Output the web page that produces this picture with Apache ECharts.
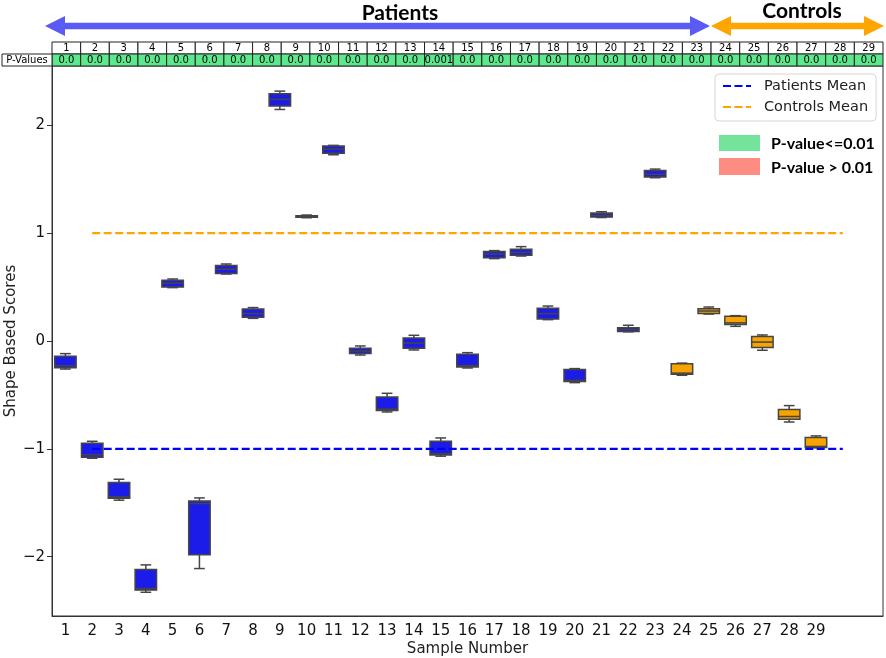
<!DOCTYPE html>
<html>
<head>
<meta charset="utf-8">
<script src="https://cdn.jsdelivr.net/npm/echarts@6/dist/echarts.min.js"></script>
<style>
	html, body { margin: 0; padding: 0; background: #fff; }
	#main { width: 886px; height: 658px; }
</style>
</head>
<body>
<div id="main"></div>
<script>
// 样本编号
var categories = ['1','2','3','4','5','6','7','8','9','10','11','12','13','14','15','16','17','18','19','20','21','22','23','24','25','26','27','28','29'];
var nPatients = 23;     // 1-23 患者, 24-29 对照
// 箱线图数据
var mins    = [-0.26,-1.087,-1.476,-2.33,0.495,-2.11,0.621,0.21,2.147,1.143,1.727,-0.13,-0.658,-0.083,-1.068,-0.25,0.764,0.788,0.198,-0.386,1.145,0.085,1.514,-0.318,0.25,0.136,-0.086,-0.751,-0.99];
var q1s     = [-0.247,-1.078,-1.458,-2.31,0.50,-1.983,0.625,0.22,2.178,1.148,1.742,-0.117,-0.645,-0.068,-1.057,-0.24,0.773,0.794,0.204,-0.376,1.149,0.087,1.52,-0.309,0.254,0.152,-0.061,-0.726,-0.988];
var medians = [-0.23,-1.055,-1.445,-2.295,0.537,-1.507,0.665,0.254,2.24,1.155,1.78,-0.093,-0.632,-0.02,-1.045,-0.228,0.806,0.822,0.254,-0.365,1.165,0.105,1.545,-0.298,0.278,0.168,-0.01,-0.70,-0.978];
var q3s     = [-0.142,-0.948,-1.312,-2.119,0.563,-1.483,0.70,0.297,2.293,1.162,1.808,-0.068,-0.519,0.028,-0.93,-0.123,0.831,0.85,0.303,-0.265,1.186,0.124,1.582,-0.21,0.30,0.229,0.041,-0.636,-0.895];
var maxs    = [-0.117,-0.93,-1.282,-2.076,0.575,-1.455,0.714,0.31,2.317,1.168,1.814,-0.046,-0.485,0.053,-0.899,-0.108,0.838,0.875,0.324,-0.256,1.199,0.146,1.594,-0.205,0.315,0.235,0.056,-0.599,-0.88];
// P值表
var pValues = ['0.0','0.0','0.0','0.0','0.0','0.0','0.0','0.0','0.0','0.0','0.0','0.0','0.0','0.001','0.0','0.0','0.0','0.0','0.0','0.0','0.0','0.0','0.0','0.0','0.0','0.0','0.0','0.0','0.0'];
// 均值线
var patientsMean = -1;
var controlsMean = 1;
var yTicks = [-2, -1, 0, 1, 2];

var chart = echarts.init(document.getElementById('main'));

var gridLeft = 52, gridRight = 3, gridTop = 66, gridBottom = 42;
var W = 886, H = 658;

var boxData = [];
for (var i = 0; i < categories.length; i++) {
	boxData.push([i, mins[i], q1s[i], medians[i], q3s[i], maxs[i]]);
}
var axisCats = categories.concat(['30', '31']);

function renderBox(params, api) {
	var idx = api.value(0);
	var band = api.size([1, 0])[0];
	var bw = band * 0.8;
	var pMin = api.coord([idx, api.value(1)]);
	var pQ1 = api.coord([idx, api.value(2)]);
	var pMed = api.coord([idx, api.value(3)]);
	var pQ3 = api.coord([idx, api.value(4)]);
	var pMax = api.coord([idx, api.value(5)]);
	var cx = pMed[0];
	var fill = idx < nPatients ? '#1c1ce8' : '#f7a400';
	var edge = {stroke: '#454545', lineWidth: 1.5};
	return {
		type: 'group',
		children: [
			{type: 'line', shape: {x1: cx, y1: pMax[1], x2: cx, y2: pQ3[1]}, style: edge},
			{type: 'line', shape: {x1: cx, y1: pMin[1], x2: cx, y2: pQ1[1]}, style: edge},
			{type: 'line', shape: {x1: cx - bw / 4, y1: pMax[1], x2: cx + bw / 4, y2: pMax[1]}, style: edge},
			{type: 'line', shape: {x1: cx - bw / 4, y1: pMin[1], x2: cx + bw / 4, y2: pMin[1]}, style: edge},
			{type: 'rect', shape: {x: cx - bw / 2, y: pQ3[1], width: bw, height: pQ1[1] - pQ3[1]},
				style: {fill: fill, stroke: '#454545', lineWidth: 1.5}},
			{type: 'line', shape: {x1: cx - bw / 2, y1: pMed[1], x2: cx + bw / 2, y2: pMed[1]}, style: edge}
		]
	};
}

// 顶部表格与箭头
var graphics = [];
var tx0 = gridLeft, tx1 = W - gridRight;
var colW = (tx1 - tx0) / categories.length;
var rowTop = 42, rowMid = 54, rowBot = 66;
for (var c = 0; c < categories.length; c++) {
	var x = tx0 + c * colW;
	graphics.push({type: 'rect', shape: {x: x, y: rowTop, width: colW, height: rowMid - rowTop},
		style: {fill: '#fff', stroke: '#222', lineWidth: 1}});
	graphics.push({type: 'rect', shape: {x: x, y: rowMid, width: colW, height: rowBot - rowMid},
		style: {fill: '#5de88e', stroke: '#222', lineWidth: 1}});
	graphics.push({type: 'text', x: x + colW / 2, y: (rowTop + rowMid) / 2,
		style: {text: categories[c], fontSize: 10, fontFamily: 'DejaVu Sans', fill: '#000', align: 'center', verticalAlign: 'middle'}});
	graphics.push({type: 'text', x: x + colW / 2, y: (rowMid + rowBot) / 2,
		style: {text: pValues[c], fontSize: 10, fontFamily: 'DejaVu Sans', fill: '#000', align: 'center', verticalAlign: 'middle'}});
}
graphics.push({type: 'rect', shape: {x: 2, y: rowMid, width: tx0 - 2, height: rowBot - rowMid},
	style: {fill: '#fff', stroke: '#222', lineWidth: 1}});
graphics.push({type: 'text', x: (2 + tx0) / 2, y: (rowMid + rowBot) / 2,
	style: {text: 'P-Values', fontSize: 10, fontFamily: 'DejaVu Sans', fill: '#000', align: 'center', verticalAlign: 'middle'}});

function arrowPoints(xa, xb, yc, headLen, headH, shaftH) {
	return [
		[xa, yc], [xa + headLen, yc - headH], [xa + headLen, yc - shaftH],
		[xb - headLen, yc - shaftH], [xb - headLen, yc - headH], [xb, yc],
		[xb - headLen, yc + headH], [xb - headLen, yc + shaftH],
		[xa + headLen, yc + shaftH], [xa + headLen, yc + headH]
	];
}
graphics.push({type: 'polygon', shape: {points: arrowPoints(45, 710, 26, 20, 10, 3.3)}, style: {fill: '#5a5af5'}});
graphics.push({type: 'polygon', shape: {points: arrowPoints(711, 884, 26, 20, 10, 3.3)}, style: {fill: '#ffa500'}});
graphics.push({type: 'text', x: 400, y: 13,
	style: {text: 'Patients', fontSize: 21, fontWeight: 'bold', fontFamily: 'Lato', fill: '#000', align: 'center', verticalAlign: 'middle'}});
graphics.push({type: 'text', x: 802, y: 11,
	style: {text: 'Controls', fontSize: 21, fontWeight: 'bold', fontFamily: 'Lato', fill: '#000', align: 'center', verticalAlign: 'middle'}});

// P值图例
graphics.push({type: 'rect', shape: {x: 719, y: 135, width: 41, height: 16}, style: {fill: '#74e39c'}});
graphics.push({type: 'rect', shape: {x: 719, y: 158, width: 41, height: 17}, style: {fill: '#ff8c82'}});
graphics.push({type: 'text', x: 771, y: 144,
	style: {text: 'P-value<=0.01', fontSize: 16, fontWeight: 'bold', fontFamily: 'Lato', fill: '#000', verticalAlign: 'middle'}});
graphics.push({type: 'text', x: 771, y: 168,
	style: {text: 'P-value > 0.01', fontSize: 16, fontWeight: 'bold', fontFamily: 'Lato', fill: '#000', verticalAlign: 'middle'}});

var option = {
	backgroundColor: '#fff',
	animation: false,
	grid: {
		left: gridLeft, right: gridRight, top: gridTop, bottom: gridBottom,
		outerBoundsMode: 'none',
		containLabel: false,
		show: true, borderColor: '#333', borderWidth: 1, backgroundColor: '#fff'
	},
	legend: {
		orient: 'vertical',
		left: 715, top: 74,
		padding: [4, 8, 6, 7],
		itemGap: 5,
		itemWidth: 28, itemHeight: 14,
		borderColor: '#d6d6d6', borderWidth: 1, borderRadius: 4,
		backgroundColor: '#fff',
		itemStyle: {opacity: 0},
		textStyle: {fontSize: 14.5, fontFamily: 'DejaVu Sans', color: '#222', lineHeight: 16, padding: [0, 0, 0, 8]},
		data: ['Patients Mean', 'Controls Mean']
	},
	xAxis: {
		type: 'category',
		data: axisCats,
		boundaryGap: true,
		name: 'Sample Number',
		nameLocation: 'middle',
		nameGap: 26,
		nameMoveOverlap: false,
		nameTextStyle: {fontSize: 15, fontFamily: 'DejaVu Sans', color: '#222'},
		axisLine: {onZero: false, lineStyle: {color: '#333'}},
		axisTick: {alignWithLabel: true, length: 5, lineStyle: {color: '#333'},
			interval: function (index) { return index < categories.length; }},
		axisLabel: {fontSize: 15, fontFamily: 'DejaVu Sans', color: '#111', margin: 8,
			interval: function (index) { return index < categories.length; }},
		splitLine: {show: false}
	},
	yAxis: {
		type: 'value',
		min: -2.55, max: 2.55,
		name: 'Shape Based Scores',
		nameLocation: 'middle',
		nameGap: 33,
		nameMoveOverlap: false,
		nameTextStyle: {fontSize: 15, fontFamily: 'DejaVu Sans', color: '#222'},
		axisLine: {show: true, lineStyle: {color: '#333'}},
		axisTick: {show: true, length: 5, lineStyle: {color: '#333'}, customValues: yTicks},
		axisLabel: {fontSize: 15, fontFamily: 'DejaVu Sans', color: '#111', margin: 7, customValues: yTicks,
			formatter: function (v) { return String(v).replace('-', '\u2212'); }},
		splitLine: {show: false}
	},
	series: [
		{
			name: 'Patients Mean',
			type: 'line',
			data: [[1, patientsMean], [categories.length, patientsMean]],
			symbol: 'none',
			z: 3,
			lineStyle: {color: '#0000ff', width: 2.3, type: [8, 3.5]},
			itemStyle: {color: '#0000ff'}
		},
		{
			name: 'Controls Mean',
			type: 'line',
			data: [[1, controlsMean], [categories.length, controlsMean]],
			symbol: 'none',
			z: 3,
			lineStyle: {color: '#ffa500', width: 2.3, type: [8, 3.5]},
			itemStyle: {color: '#ffa500'}
		},
		{
			name: 'boxes',
			type: 'custom',
			renderItem: renderBox,
			encode: {x: 0, y: [1, 2, 3, 4, 5]},
			data: boxData,
			z: 2
		}
	],
	graphic: graphics
};
chart.setOption(option);
</script>
</body>
</html>
